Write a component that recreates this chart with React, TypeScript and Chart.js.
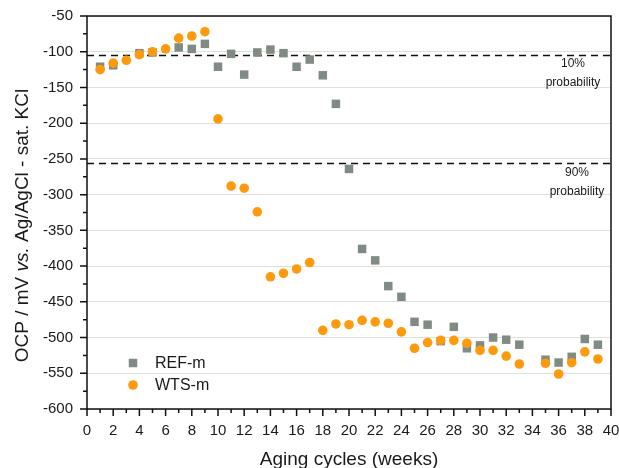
import React, { useEffect, useRef } from 'react';
import { Chart, registerables } from 'chart.js';

Chart.register(...registerables);

// ---- data ----
const refWeeks = [1, 2, 4, 5, 7, 8, 9, 10, 11, 12, 13, 14, 15, 16, 17, 18, 19, 20, 21, 22, 23, 24, 25, 26, 27, 28, 29, 30, 31, 32, 33, 35, 36, 37, 38, 39];
const refValues = [-121, -119, -102, -101, -94, -96, -89, -121, -103, -132, -101, -97, -102, -121, -111, -133, -173, -264, -376, -392, -428, -443, -478, -482, -505, -485, -515, -511, -500, -503, -510, -531, -535, -527, -502, -510];
const wtsWeeks = [1, 2, 3, 4, 5, 6, 7, 8, 9, 10, 11, 12, 13, 14, 15, 16, 17, 18, 19, 20, 21, 22, 23, 24, 25, 26, 27, 28, 29, 30, 31, 32, 33, 35, 36, 37, 38, 39];
const wtsValues = [-125, -116, -112, -104, -100, -96, -81, -78, -72, -194, -288, -291, -324, -415, -410, -404, -395, -490, -481, -482, -476, -478, -480, -492, -515, -507, -504, -504, -508, -518, -518, -526, -537, -536, -551, -535, -520, -530];
const seriesNames = ['REF-m', 'WTS-m'];
const thresholdValues = [-104, -256];
const thresholdLabels = [['10%', 'probability'], ['90%', 'probability']];
const xTitle = 'Aging cycles (weeks)';
const yTitleParts: [string, boolean][] = [['OCP / mV ', false], ['vs.', true], [' Ag/AgCl - sat. KCl', false]];

const FONT = '"Liberation Sans", Arial, Helvetica, sans-serif';
const ORANGE = '#FF9A0D';
const GRAY = '#808B84';
const TEXT = '#1a1a1a';

const decorPlugin = {
  id: 'decor',
  beforeDatasetsDraw(chart: any) {
    const { ctx, chartArea } = chart;
    const y = chart.scales.y;
    ctx.save();
    ctx.strokeStyle = '#111';
    ctx.lineWidth = 1.5;
    ctx.setLineDash([7, 5]);
    thresholdValues.forEach((v) => {
      const py = Math.round(y.getPixelForValue(v)) + 0.5;
      ctx.beginPath();
      ctx.moveTo(chartArea.left, py);
      ctx.lineTo(chartArea.right, py);
      ctx.stroke();
    });
    ctx.restore();
  },
  afterDraw(chart: any) {
    const { ctx, chartArea } = chart;
    const { left, right, top, bottom } = chartArea;
    const xs = chart.scales.x;
    const ys = chart.scales.y;
    ctx.save();
    // frame
    ctx.strokeStyle = '#111';
    ctx.lineWidth = 1.5;
    ctx.strokeRect(left, top, right - left, bottom - top);
    // ticks
    ctx.beginPath();
    for (let v = 0; v <= 40; v += 1) {
      const px = xs.getPixelForValue(v);
      const len = v % 2 === 0 ? 7 : 4;
      ctx.moveTo(px, bottom);
      ctx.lineTo(px, bottom + len);
    }
    for (let v = -600; v <= -50; v += 25) {
      const py = ys.getPixelForValue(v);
      const len = v % 50 === 0 ? 7 : 4;
      ctx.moveTo(left, py);
      ctx.lineTo(left - len, py);
    }
    ctx.stroke();

    // threshold annotations
    ctx.fillStyle = TEXT;
    ctx.font = '12px ' + FONT;
    ctx.textAlign = 'center';
    ctx.textBaseline = 'middle';
    const offs = [38, 34];
    thresholdValues.forEach((v, i) => {
      const py = ys.getPixelForValue(v);
      ctx.fillText(thresholdLabels[i][0], right - offs[i], py + 9);
      ctx.fillText(thresholdLabels[i][1], right - offs[i], py + 28);
    });

    // legend
    const lx = left + 46;
    const ly1 = bottom - 46;
    const ly2 = bottom - 24;
    ctx.fillStyle = GRAY;
    ctx.fillRect(lx - 4.25, ly1 - 4.25, 8.5, 8.5);
    ctx.fillStyle = ORANGE;
    ctx.beginPath();
    ctx.arc(lx, ly2, 4.8, 0, Math.PI * 2);
    ctx.fill();
    ctx.fillStyle = TEXT;
    ctx.font = '16px ' + FONT;
    ctx.textAlign = 'left';
    ctx.fillText(seriesNames[0], lx + 22, ly1 + 1);
    ctx.fillText(seriesNames[1], lx + 22, ly2 + 1);

    // x title
    ctx.font = '19px ' + FONT;
    ctx.textAlign = 'center';
    ctx.textBaseline = 'alphabetic';
    ctx.fillText(xTitle, (left + right) / 2, 465);

    // y title (rotated, with italic "vs.")
    ctx.translate(28, 225.5);
    ctx.rotate(-Math.PI / 2);
    ctx.textAlign = 'left';
    let total = 0;
    const widths = yTitleParts.map(([t, it]) => {
      ctx.font = (it ? 'italic ' : '') + '19px ' + FONT;
      const w = ctx.measureText(t).width;
      total += w;
      return w;
    });
    let cx = -total / 2;
    yTitleParts.forEach(([t, it], i) => {
      ctx.font = (it ? 'italic ' : '') + '19px ' + FONT;
      ctx.fillText(t, cx, 0);
      cx += widths[i];
    });
    ctx.restore();
  },
};

export default function App() {
  const canvasRef = useRef<HTMLCanvasElement | null>(null);

  useEffect(() => {
    if (!canvasRef.current) return;
    const chart = new Chart(canvasRef.current, {
      type: 'scatter',
      data: {
        datasets: [
          {
            label: seriesNames[0],
            data: refWeeks.map((w, i) => ({ x: w, y: refValues[i] })),
            pointStyle: 'rect',
            pointRadius: 6,
            pointHoverRadius: 6,
            backgroundColor: GRAY,
            borderWidth: 0,
            order: 2,
          },
          {
            label: seriesNames[1],
            data: wtsWeeks.map((w, i) => ({ x: w, y: wtsValues[i] })),
            pointStyle: 'circle',
            pointRadius: 4.8,
            pointHoverRadius: 4.8,
            backgroundColor: ORANGE,
            borderWidth: 0,
            order: 1,
          },
        ],
      },
      options: {
        animation: false,
        responsive: false,
        events: [],
        layout: { padding: { top: 16, right: 8, left: 0, bottom: 0 } },
        plugins: {
          legend: { display: false },
          tooltip: { enabled: false },
        },
        scales: {
          x: {
            type: 'linear',
            min: 0,
            max: 40,
            ticks: {
              stepSize: 2,
              autoSkip: false,
              maxRotation: 0,
              padding: 13,
              color: TEXT,
              font: { family: FONT, size: 15 },
            },
            grid: { drawOnChartArea: false, drawTicks: false },
            border: { display: false },
            afterFit: (s: any) => {
              s.height = 59;
              s.paddingLeft = 0;
              s.paddingRight = 0;
            },
          },
          y: {
            type: 'linear',
            min: -600,
            max: -50,
            ticks: {
              stepSize: 50,
              padding: 14,
              color: TEXT,
              font: { family: FONT, size: 15 },
            },
            grid: { color: '#dbe3dc', lineWidth: 1, drawTicks: false },
            border: { display: false },
            afterFit: (s: any) => {
              s.width = 87;
              s.paddingTop = 0;
              s.paddingBottom = 0;
            },
          },
        },
      },
      plugins: [decorPlugin],
    });
    return () => chart.destroy();
  }, []);

  return (
    <div style={{ position: 'absolute', left: 0, top: 0, width: 619, height: 468, background: '#fff' }}>
      <canvas ref={canvasRef} width={619} height={468} />
    </div>
  );
}
